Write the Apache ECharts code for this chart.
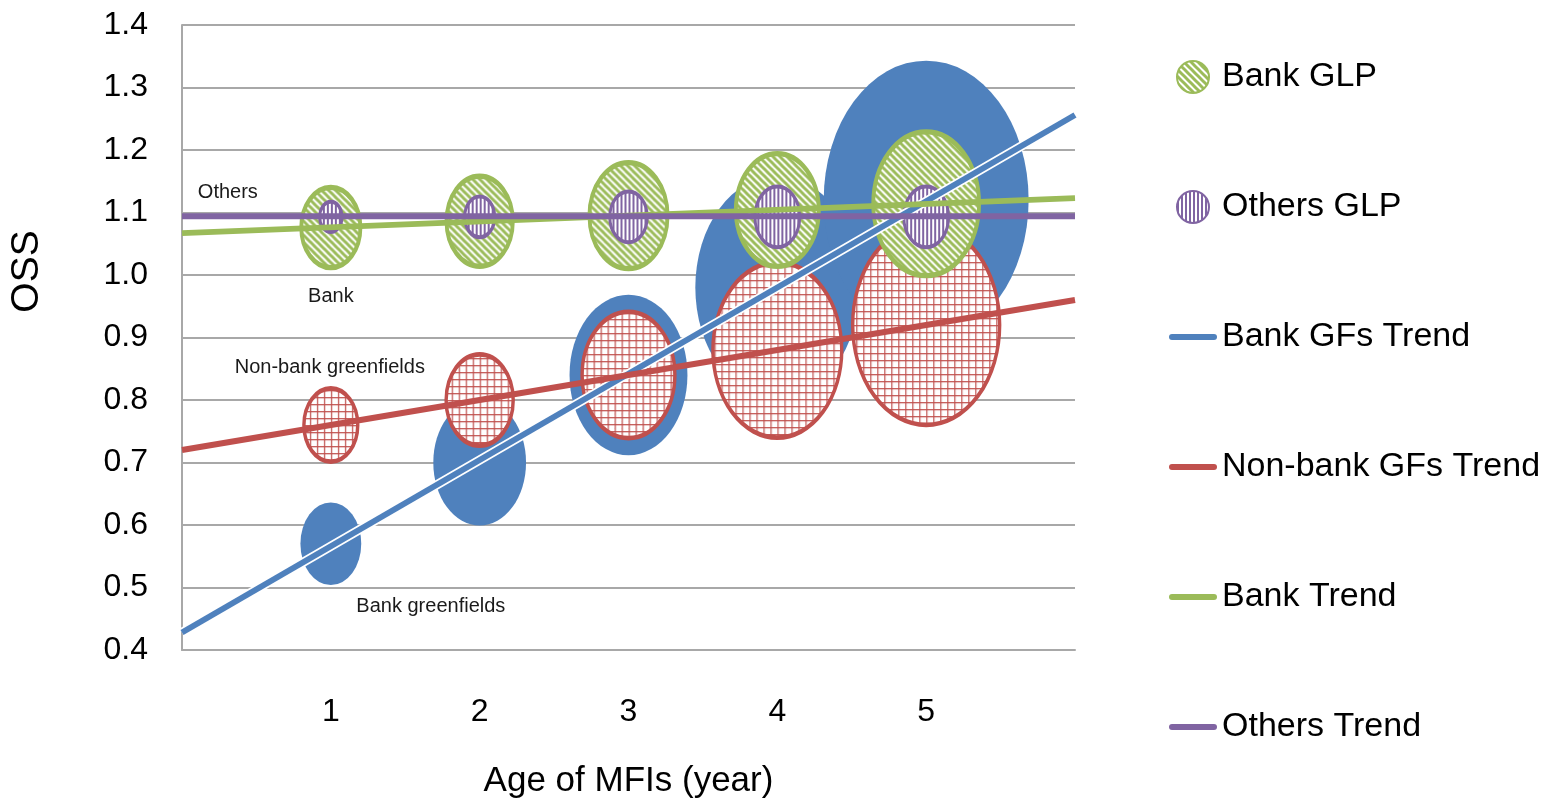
<!DOCTYPE html>
<html><head><meta charset="utf-8">
<script src="https://cdn.jsdelivr.net/npm/echarts@6/dist/echarts.min.js"></script>
<style>html,body{margin:0;padding:0;background:#fff}#c{width:1554px;height:809px}</style>
</head><body><div id="c"></div>
<script>
// ---- data ----
const ages = [1, 2, 3, 4, 5];
const bankGFsOSS = [0.57, 0.70, 0.84, 0.98, 1.12];
const bankGFsGLP = [37, 86, 139, 269, 420];
const nonBankGFsOSS = [0.76, 0.80, 0.84, 0.88, 0.92];
const nonBankGFsGLP = [29, 45, 86, 166, 216];
const bankOSS = [1.076, 1.086, 1.095, 1.104, 1.114];
const bankGLP = [35, 44, 61, 69, 112];
const othersOSS = [1.093, 1.093, 1.093, 1.093, 1.093];
const othersGLP = [5, 9, 14, 20, 20];
const trendX = [0, 6];
const bankGFsTrend = [0.428, 1.256];
const nonBankGFsTrend = [0.72, 0.96];
const bankTrend = [1.067, 1.123];
const othersTrend = [1.094, 1.094];
const xTickLabels = ['1', '2', '3', '4', '5'];
const groupLabels = ['Bank greenfields', 'Non-bank greenfields', 'Bank', 'Others'];

// ---- styling ----
const FONT = "'Liberation Sans', Arial, sans-serif";
const BLUE = '#4F81BD', RED = '#C0504D', GREEN = '#9BBB59', PURPLE = '#8064A2';
const ASPECT = 1.36;
const sizeOf = g => { const w = 10 * Math.sqrt(g); return [w, w * ASPECT]; };
const sizeFn = v => sizeOf(v[2]);

function makeTile(w, h, draw) {
  const c = document.createElement('canvas');
  c.width = w; c.height = h;
  const ctx = c.getContext('2d');
  ctx.fillStyle = '#fff'; ctx.fillRect(0, 0, w, h);
  draw(ctx, w, h);
  return c;
}
const diagTile = makeTile(7, 7, (ctx, s) => {
  ctx.strokeStyle = GREEN; ctx.lineWidth = 3;
  for (let k = -1; k <= 1; k++) {
    ctx.beginPath(); ctx.moveTo(-2, -2 + k * s); ctx.lineTo(s + 2, s + 2 + k * s); ctx.stroke();
  }
});
const vertTile = makeTile(4, 4, (ctx) => {
  ctx.fillStyle = PURPLE; ctx.fillRect(0, 0, 2, 4);
});
const gridTile = makeTile(7, 7, (ctx) => {
  ctx.fillStyle = 'rgba(192,80,77,0.9)';
  ctx.fillRect(0, 0, 7, 1.3); ctx.fillRect(0, 0, 1.3, 7);
});
// pattern compensated for the symbol's own scaling (symbols are unit shapes scaled by size/2)
function pattern(tile, size) {
  const p = { image: tile, repeat: 'repeat' };
  if (size) { p.scaleX = 2 / size[0]; p.scaleY = 2 / size[1]; }
  return p;
}
const LINE_ICON = 'path://M3,0 L45,0 A3,3 0 0 1 45,6 L3,6 A3,3 0 0 1 3,0 Z';

function pts(ys, sizes, tile, labelIdx, label, offset) {
  return ages.map((a, i) => {
    const d = { value: [a, ys[i], sizes[i]] };
    if (tile) d.itemStyle = { color: pattern(tile, sizeOf(sizes[i])) };
    if (i === labelIdx) {
      d.label = { show: true, formatter: label, position: 'inside', offset: offset,
        fontFamily: FONT, fontSize: 20, color: '#1a1a1a' };
    }
    return d;
  });
}
function line(ys) { return trendX.map((x, i) => [x, ys[i]]); }

const chart = echarts.init(document.getElementById('c'), null, { renderer: 'canvas' });
chart.setOption({
  animation: false,
  backgroundColor: '#fff',
  grid: { left: 178, right: 479, top: 25, bottom: 159, containLabel: false },
  xAxis: {
    type: 'value', min: 0, max: 6, interval: 1,
    name: 'Age of MFIs (year)', nameLocation: 'middle', nameGap: 114,
    nameTextStyle: { fontFamily: FONT, fontSize: 35, color: '#000' },
    axisLine: { show: true, lineStyle: { color: '#A8A8A8', width: 2 } },
    axisTick: { show: false },
    splitLine: { show: false },
    axisLabel: { margin: 46, fontFamily: FONT, fontSize: 32, color: '#000',
      formatter: v => (v >= 1 && v <= 5) ? xTickLabels[v - 1] : '' }
  },
  yAxis: {
    type: 'value', min: 0.4, max: 1.4, interval: 0.1,
    name: 'OSS', nameLocation: 'middle', nameGap: 135,
    nameTextStyle: { fontFamily: FONT, fontSize: 39, color: '#000', padding: [0, 0, 0, 132] },
    axisLine: { show: true, lineStyle: { color: '#A8A8A8', width: 2 } },
    axisTick: { show: false },
    splitLine: { show: true, lineStyle: { color: '#A8A8A8', width: 2 } },
    axisLabel: { margin: 34, fontFamily: FONT, fontSize: 32, color: '#000',
      formatter: v => v.toFixed(1) }
  },
  legend: {
    orient: 'vertical', left: 1164, top: 52, itemWidth: 48, itemHeight: 32, itemGap: 90,
    textStyle: { fontFamily: FONT, fontSize: 34, color: '#000', lineHeight: 40 },
    data: [
      { name: 'Bank GLP', icon: 'circle' },
      { name: 'Others GLP', icon: 'circle' },
      { name: 'Bank GFs Trend', icon: LINE_ICON },
      { name: 'Non-bank GFs Trend', icon: LINE_ICON },
      { name: 'Bank Trend', icon: LINE_ICON },
      { name: 'Others Trend', icon: LINE_ICON }
    ]
  },
  series: [
    { name: 'Bank GFs GLP', type: 'scatter', symbolSize: sizeFn,
      data: pts(bankGFsOSS, bankGFsGLP, null, 0, groupLabels[0], [100, 63]),
      itemStyle: { color: BLUE, opacity: 1 }, emphasis: { disabled: true } },
    { name: 'Non-bank GFs GLP', type: 'scatter', symbolSize: sizeFn,
      data: pts(nonBankGFsOSS, nonBankGFsGLP, gridTile, 0, groupLabels[1], [-1, -58]),
      itemStyle: { color: pattern(gridTile), opacity: 1, borderColor: RED, borderWidth: 4 },
      emphasis: { disabled: true } },
    { name: 'Bank GLP', type: 'scatter', symbolSize: sizeFn,
      data: pts(bankOSS, bankGLP, diagTile, 0, groupLabels[2], [0, 69]),
      itemStyle: { color: pattern(diagTile), opacity: 1, borderColor: GREEN, borderWidth: 4.5 },
      emphasis: { disabled: true } },
    { name: 'Others GLP', type: 'scatter', symbolSize: sizeFn,
      data: pts(othersOSS, othersGLP, vertTile, 0, groupLabels[3], [-103, -24]),
      itemStyle: { color: pattern(vertTile), opacity: 1, borderColor: PURPLE, borderWidth: 3.5 },
      emphasis: { disabled: true } },
    { name: 'Bank GFs Trend outline', type: 'line', data: line(bankGFsTrend), symbol: 'none',
      lineStyle: { color: '#fff', width: 9.5 }, emphasis: { disabled: true }, silent: true },
    { name: 'Bank GFs Trend', type: 'line', data: line(bankGFsTrend), symbol: 'none',
      itemStyle: { color: BLUE }, lineStyle: { color: BLUE, width: 6 }, emphasis: { disabled: true } },
    { name: 'Non-bank GFs Trend', type: 'line', data: line(nonBankGFsTrend), symbol: 'none',
      itemStyle: { color: RED }, lineStyle: { color: RED, width: 6 }, emphasis: { disabled: true } },
    { name: 'Bank Trend', type: 'line', data: line(bankTrend), symbol: 'none',
      itemStyle: { color: GREEN }, lineStyle: { color: GREEN, width: 6 }, emphasis: { disabled: true } },
    { name: 'Others Trend', type: 'line', data: line(othersTrend), symbol: 'none',
      itemStyle: { color: PURPLE }, lineStyle: { color: PURPLE, width: 6 }, emphasis: { disabled: true } }
  ]
});
</script></body></html>
